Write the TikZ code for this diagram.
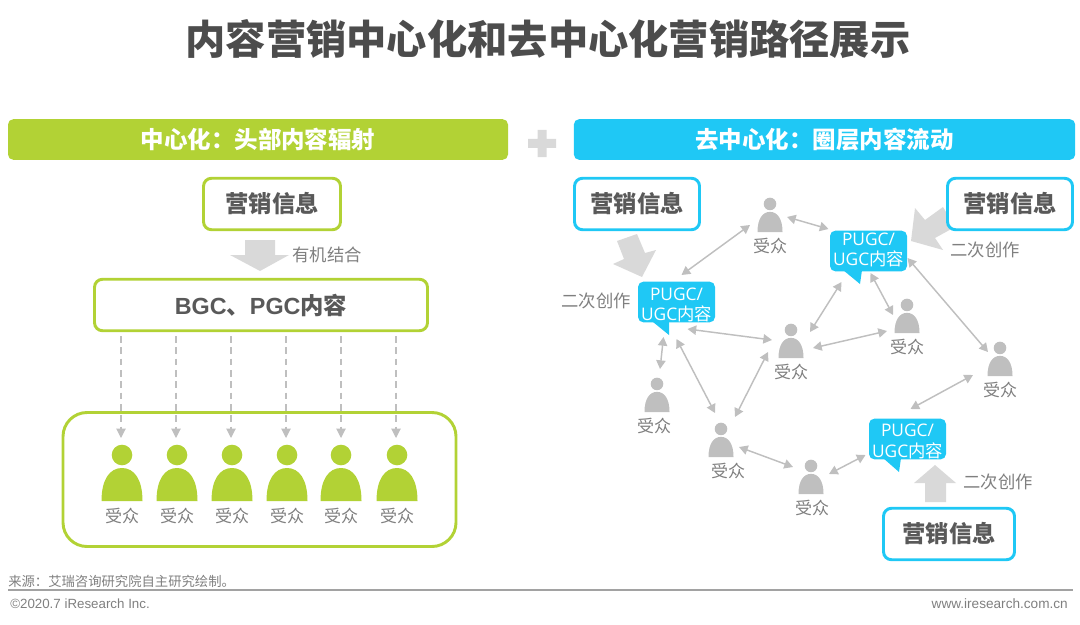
\documentclass[tikz,border=0pt]{standalone}
\usepackage{fontspec}
\setmainfont{Noto Sans CJK SC}
\newfontfamily\footfont{Liberation Sans}
\newfontfamily\latinfont{Open Sans}
\usetikzlibrary{arrows.meta}
\definecolor{leafgreen}{HTML}{B2D235}
\definecolor{skyblue}{HTML}{1FC8F5}
\definecolor{softgrey}{HTML}{BFBFBF}
\definecolor{blockgrey}{HTML}{D9D9D9}
\definecolor{inkgrey}{HTML}{595959}
\definecolor{notegrey}{HTML}{7F7F7F}
\tikzset{
  banner/.style={rounded corners=4pt,text=white,font=\fontsize{17.6}{20}\selectfont\bfseries,minimum height=30.5pt,inner sep=0pt},
  infobox/.style={draw,fill=white,line width=2.2pt,rounded corners=6pt,text=inkgrey,font=\fontsize{17.5}{20}\selectfont\bfseries,minimum height=38.6pt,inner sep=0pt},
  bubble/.style={fill=skyblue,rounded corners=4pt,minimum width=57.75pt,minimum height=30.5pt,inner sep=0pt},
  bubbletext/.style={text=white,align=center,font=\fontsize{13}{15.4}\selectfont,inner sep=0pt},
  audience/.style={text=notegrey,font=\fontsize{12.75}{15}\selectfont,inner sep=0pt},
  remark/.style={text=notegrey,font=\fontsize{13}{15}\selectfont,inner sep=0pt},
  link/.style={softgrey,line width=1.1pt,{Triangle[length=6.5pt,width=7pt]}-{Triangle[length=6.5pt,width=7pt]}},
  flow/.style={softgrey,line width=0.8pt,dash pattern=on 5pt off 3.5pt,-{Triangle[length=7pt,width=7pt]}},
  pics/person/.style={code={
    \path[pic actions] (0,46) circle[radius=10.3];
    \path[pic actions] (-20.5,0) .. controls (-20.5,22) and (-12,33) .. (0,33) .. controls (12,33) and (20.5,22) .. (20.5,0) -- cycle;
  }}
}
\begin{document}
\begin{tikzpicture}[x=0.75pt,y=0.75pt,yscale=-1,xscale=1]
\useasboundingbox (0,0) rectangle (1080,624);

% Title
\node[text=inkgrey!85!black,font=\fontsize{30.2}{34}\selectfont\bfseries,inner sep=0pt] (title) at (548,39) {内容营销中心化和去中心化营销路径展示};

% Banners
\node[banner,fill=leafgreen,minimum width=375pt] (leftbar) at (258,139.5) {中心化：头部内容辐射};
\node[banner,fill=skyblue,minimum width=376pt] (rightbar) at (824.5,139.5) {去中心化：圈层内容流动};
%Shape: Plus
\fill[blockgrey] (537.5,130) -- (546.5,130) -- (546.5,139) -- (556,139) -- (556,148) -- (546.5,148) -- (546.5,157) -- (537.5,157) -- (537.5,148) -- (528,148) -- (528,139) -- (537.5,139) -- cycle ;

%Shape: Block Arrow, left
\fill[blockgrey] (245,240) -- (275,240) -- (275,255) -- (289,255) -- (260,271) -- (230,255) -- (245,255) -- cycle ;
%Shape: Block Arrow, first bubble
\fill[blockgrey] (617,241) -- (637,234) -- (645,253) -- (656,250) -- (642,277) -- (613,264) -- (624,259) -- cycle ;
%Shape: Block Arrow, second bubble
\fill[blockgrey] (943,207) -- (955,227) -- (935,238) -- (943,250) -- (911,241) -- (915,208) -- (925,220) -- cycle ;
%Shape: Block Arrow, third bubble
\fill[blockgrey] (925,502) -- (946,502) -- (946,483) -- (956,483) -- (935,465) -- (914,483) -- (925,483) -- cycle ;

% Left column
\node[infobox,draw=leafgreen,minimum width=137pt*0.75] (infoleft) at (272,204) {营销信息};
\node[remark] (organic) at (327,255) {有机结合};
\node[infobox,draw=leafgreen,minimum width=333pt*0.75] (bgc) at (261,305) {{\footfont BGC}、{\footfont PGC}内容};
\node[draw=leafgreen,line width=2.2pt,rounded corners=18pt,minimum width=393pt*0.75,minimum height=134pt*0.75,inner sep=0pt] (crowd) at (259.5,479.5) {};

% Left audience
\node[audience] (g1) at (122,516) {受众};
\node[audience] (g2) at (177,516) {受众};
\node[audience] (g3) at (232,516) {受众};
\node[audience] (g4) at (287,516) {受众};
\node[audience] (g5) at (341,516) {受众};
\node[audience] (g6) at (397,516) {受众};
\pic[fill=leafgreen] at (122,501) {person};
\pic[fill=leafgreen] at (177,501) {person};
\pic[fill=leafgreen] at (232,501) {person};
\pic[fill=leafgreen] at (287,501) {person};
\pic[fill=leafgreen] at (341,501) {person};
\pic[fill=leafgreen] at (397,501) {person};

%Straight Lines, left
\draw[flow] ([shift={(-1,-180)}]g1.center) -- ([shift={(-1,-78)}]g1.center);
\draw[flow] ([shift={(-1,-180)}]g2.center) -- ([shift={(-1,-78)}]g2.center);
\draw[flow] ([shift={(-1,-180)}]g3.center) -- ([shift={(-1,-78)}]g3.center);
\draw[flow] ([shift={(-1,-180)}]g4.center) -- ([shift={(-1,-78)}]g4.center);
\draw[flow] ([shift={(0,-180)}]g5.center) -- ([shift={(0,-78)}]g5.center);
\draw[flow] ([shift={(-1,-180)}]g6.center) -- ([shift={(-1,-78)}]g6.center);

% Right column
\node[infobox,draw=skyblue,minimum width=125pt*0.75] (infoa) at (637,204) {营销信息};
\node[infobox,draw=skyblue,minimum width=125pt*0.75] (infob) at (1010,204) {营销信息};
\node[infobox,draw=skyblue,minimum width=131pt*0.75] (infoc) at (949,534) {营销信息};
\node[remark] (recreatea) at (596,301) {二次创作};
\node[remark] (recreateb) at (985,250) {二次创作};
\node[remark] (recreatec) at (998,482) {二次创作};

% Bubbles
\fill[skyblue] (653,322) -- (669,322) -- (669,335) -- cycle ;
\fill[skyblue] (843,270) -- (862,270) -- (860,284) -- cycle ;
\fill[skyblue] (883,458) -- (901,458) -- (899,472) -- cycle ;
\node[bubble,label={[bubbletext,yshift=-2.2pt]center:{{\latinfont PUGC/}\\{\latinfont UGC}内容}}] (b1) at (676.5,302) {};
\node[bubble,label={[bubbletext,yshift=0.8pt]center:{{\latinfont PUGC/}\\{\latinfont UGC}内容}}] (b2) at (868.5,251) {};
\node[bubble,label={[bubbletext,yshift=-1.8pt]center:{{\latinfont PUGC/}\\{\latinfont UGC}内容}}] (b3) at (907.5,439) {};

% Right audience
\node[audience] (a1) at (770,246) {受众};
\node[audience] (a2) at (907,347) {受众};
\node[audience] (a3) at (1000,390) {受众};
\node[audience] (a4) at (791,372) {受众};
\node[audience] (a5) at (654,426) {受众};
\node[audience] (a6) at (728,471) {受众};
\node[audience] (a7) at (812,508) {受众};
\pic[fill=softgrey,scale=0.61] at (770,232) {person};
\pic[fill=softgrey,scale=0.61] at (907,333) {person};
\pic[fill=softgrey,scale=0.61] at (1000,376) {person};
\pic[fill=softgrey,scale=0.61] at (791,358) {person};
\pic[fill=softgrey,scale=0.61] at (657,412) {person};
\pic[fill=softgrey,scale=0.61] at (721,457) {person};
\pic[fill=softgrey,scale=0.61] at (811,494) {person};

%Straight Lines, right
\draw[link] ([shift={(5,-27)}]b1.center) -- ([shift={(-20,-21)}]a1.center);
\draw[link] ([shift={(17,-29)}]a1.center) -- ([shift={(-40,-22)}]b2.center);
\draw[link] ([shift={(11,27)}]b1.center) -- ([shift={(-19,-32)}]a4.center);
\draw[link] ([shift={(-13,35)}]b1.center) -- ([shift={(6,-57)}]a5.center);
\draw[link] ([shift={(0,37)}]b1.center) -- ([shift={(-13,-58)}]a6.center);
\draw[link] ([shift={(7,-54)}]a6.center) -- ([shift={(-23,-20)}]a4.center);
\draw[link] ([shift={(11,-24)}]a6.center) -- ([shift={(-19,-41)}]a7.center);
\draw[link] ([shift={(17,-34)}]a7.center) -- ([shift={(-42,16)}]b3.center);
\draw[link] ([shift={(3,-30)}]b3.center) -- ([shift={(-27,-15)}]a3.center);
\draw[link] ([shift={(39,7)}]b2.center) -- ([shift={(-12,-38)}]a3.center);
\draw[link] ([shift={(2,22)}]b2.center) -- ([shift={(-14,-32)}]a2.center);
\draw[link] ([shift={(-27,31)}]b2.center) -- ([shift={(19,-40)}]a4.center);
\draw[link] ([shift={(-20,-16)}]a2.center) -- ([shift={(22,-24)}]a4.center);

% Footer
\node[text=notegrey,font=\fontsize{10}{12}\selectfont,anchor=west,inner sep=0pt] (source) at (8,581) {来源：艾瑞咨询研究院自主研究绘制。};
\draw[color=softgrey!85!black,line width=1.5pt] (8,589.5) -- (1073,589.5);
\node[text=notegrey,font=\footfont\fontsize{10}{12}\selectfont,anchor=west,inner sep=0pt] (copyright) at (10,604) {©2020.7 iResearch Inc.};
\node[text=notegrey,font=\footfont\fontsize{10.2}{12}\selectfont,anchor=east,inner sep=0pt] (website) at (1068,604) {www.iresearch.com.cn};

\end{tikzpicture}
\end{document}
